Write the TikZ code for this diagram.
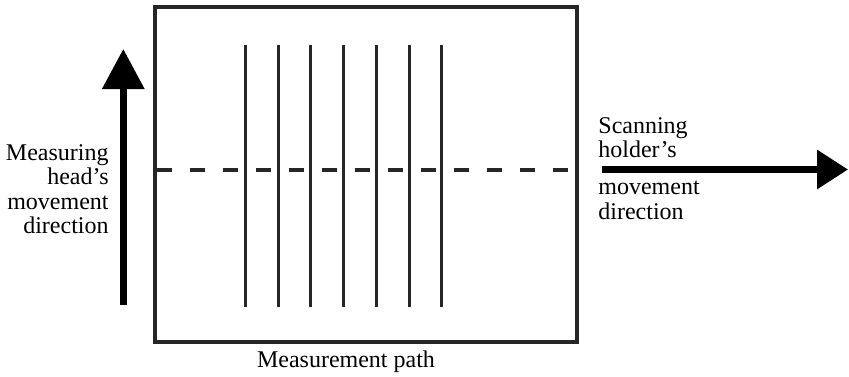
\documentclass[tikz,border=0pt]{standalone}
\usepackage{fontspec}
\setmainfont{Liberation Serif}
\usetikzlibrary{arrows.meta}
\begin{document}
\begin{tikzpicture}[x=0.5pt,y=-0.5pt,
  lbl/.style={inner sep=0pt,font=\fontsize{12}{12.2}\selectfont},
  frame/.style={draw=black!85,line width=1.9pt},
  pathline/.style={draw=black!85,line width=1.5pt},
  dashline/.style={draw=black!85,line width=1.6pt,dash pattern=on 7.5pt off 9pt,dash phase=-1.8pt},
  ]
\useasboundingbox (0,0) rectangle (849,376);
% frame
\node[frame,minimum width=211pt,minimum height=167.5pt,inner sep=0pt,anchor=north west] (box) at (153,5) {};
% measurement paths
\foreach \i/\x in {1/245.5,2/278,3/310.7,4/343.3,5/376.5,6/409.3,7/441.7}{
  \coordinate (t\i) at (\x,45);
  \coordinate (b\i) at (\x,306.5);
  \draw[pathline] (t\i) -- (b\i);
}
% dashed line
\coordinate (dl) at (153,170);
\coordinate (dr) at (575,170);
\draw[dashline] (dl) -- (dr);
% left arrow
\coordinate (la0) at (123.3,305);
\coordinate (la1) at (123.3,49);
\draw[draw=black,line width=3.2pt,-{Triangle[length=20pt,width=20.5pt]}] (la0) -- (la1);
% right arrow
\coordinate (ra0) at (601.5,169.5);
\coordinate (ra1) at (848,169.5);
\draw[draw=black,line width=3.2pt,-{Triangle[length=15.5pt,width=19pt]}] (ra0) -- (ra1);
% labels
\node[lbl,align=right,anchor=east] (lt) at (109,189) {Measuring\\head's\\movement\\direction};
\node[lbl,align=left,anchor=west] (rt1) at (598,137.5) {Scanning\\holder's};
\node[lbl,align=left,anchor=west] (rt2) at (598,200.5) {movement\\direction};
\node[lbl,anchor=base] (bt) at (346,367) {Measurement path};
\end{tikzpicture}
\end{document}
